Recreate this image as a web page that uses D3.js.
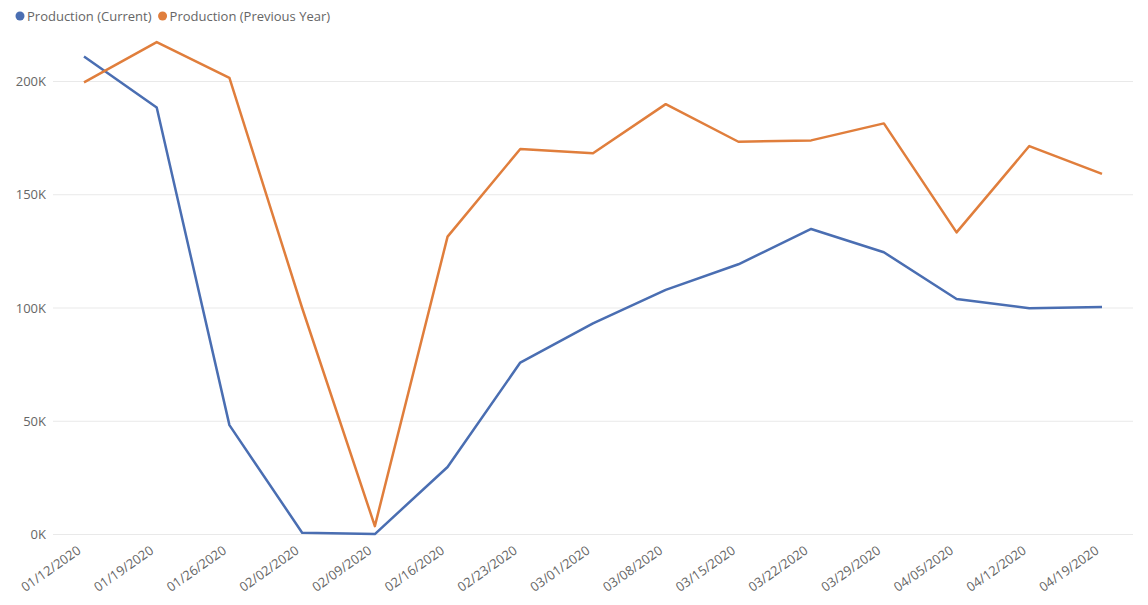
<!DOCTYPE html>
<html>
<head>
<meta charset="utf-8">
<script src="https://cdn.jsdelivr.net/npm/d3@7"></script>
<style>
  body { margin: 0; background: #fff; }
  text { font-family: "Segoe UI", "Open Sans", "Noto Sans", sans-serif; }
</style>
</head>
<body>
<div id="grafico"></div>
<script>
const fechas = ["01/12/2020", "01/19/2020", "01/26/2020", "02/02/2020", "02/09/2020", "02/16/2020", "02/23/2020",
    "03/01/2020", "03/08/2020", "03/15/2020", "03/22/2020", "03/29/2020", "04/05/2020", "04/12/2020", "04/19/2020"];
const produccionActual = [211000, 188500, 48300, 800, 200, 29800, 75900, 93200, 108000, 119300, 134900, 124600, 104000, 99900, 100400];
const produccionAnterior = [199600, 217400, 201600, 100000, 3700, 131500, 170200, 168300, 190000, 173400, 174000, 181500, 133400, 171500, 159200];
const ticksY = [0, 50000, 100000, 150000, 200000];
const series = [
    { nombre: "Production (Current)", valores: produccionActual, color: "#4a6eb2" },
    { nombre: "Production (Previous Year)", valores: produccionAnterior, color: "#e07e3c" }
];

const ancho = 1148, alto = 605;
const gris = "#666666";

const $svg = d3.select("#grafico")
    .append("svg")
    .attr("width", ancho)
    .attr("height", alto);

const x = d3.scalePoint()
    .domain(fechas)
    .range([84, 1102]);

const y = d3.scaleLinear()
    .domain([0, 200000])
    .range([534.5, 81.5]);

// lineas de la grilla
$svg.append("g")
    .selectAll("line")
    .data(ticksY)
    .join("line")
    .attr("x1", 53)
    .attr("x2", 1133)
    .attr("y1", d => y(d))
    .attr("y2", d => y(d))
    .attr("stroke", "#e9e9e9")
    .attr("stroke-width", 1);

// eje Y
const ejeY = $svg.append("g")
    .attr("transform", "translate(46,0)")
    .call(d3.axisLeft(y).tickValues(ticksY).tickSize(0).tickPadding(0)
        .tickFormat(d => (d / 1000) + "K"));
ejeY.select(".domain").remove();
ejeY.selectAll("text")
    .attr("fill", gris)
    .attr("font-size", 13)
    .style("font-family", "'Segoe UI', 'Open Sans', sans-serif");

// eje X
const ejeX = $svg.append("g")
    .attr("transform", "translate(0,545)")
    .call(d3.axisBottom(x).tickSize(0).tickPadding(0));
ejeX.select(".domain").remove();
ejeX.selectAll("text")
    .attr("fill", gris)
    .attr("font-size", 13)
    .style("font-family", "'Segoe UI', 'Open Sans', sans-serif")
    .attr("text-anchor", "end")
    .attr("dy", "0.71em")
    .attr("transform", "translate(-8,0) rotate(-35)");

// lineas
const linea = d3.line()
    .x((d, i) => x(fechas[i]))
    .y(d => y(d));

$svg.append("g")
    .selectAll("path")
    .data(series)
    .join("path")
    .attr("d", s => linea(s.valores))
    .attr("fill", "none")
    .attr("stroke", s => s.color)
    .attr("stroke-width", 2.5)
    .attr("stroke-linejoin", "round");

// leyenda
const leyenda = $svg.append("g").attr("transform", "translate(0,16)");
let posX = 20;
series.forEach(s => {
    const g = leyenda.append("g").attr("transform", `translate(${posX},0)`);
    g.append("circle").attr("r", 4.5).attr("fill", s.color);
    const t = g.append("text")
        .attr("x", 7)
        .attr("dy", "0.35em")
        .attr("fill", gris)
        .attr("font-size", 13)
        .text(s.nombre);
    posX += 7 + t.node().getComputedTextLength() + 11;
});
</script>
</body>
</html>
